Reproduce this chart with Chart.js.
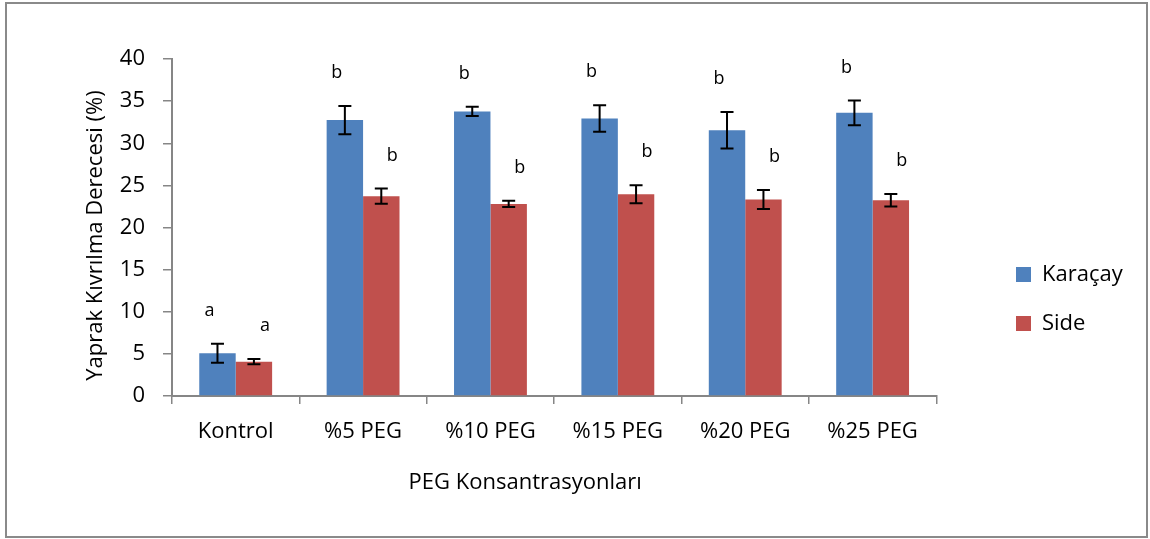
<!DOCTYPE html>
<html>
<head>
<meta charset="utf-8">
<script src="https://cdn.jsdelivr.net/npm/chart.js@4"></script>
<style>
  html, body { margin: 0; padding: 0; background: #ffffff; }
  #wrap { width: 1150px; height: 539px; position: relative; }
</style>
</head>
<body>
<div id="wrap"><canvas id="chart"></canvas></div>
<script>
// Leaf rolling degree (%) per PEG concentration for two cultivars
const categories = ['Kontrol', '%5 PEG', '%10 PEG', '%15 PEG', '%20 PEG', '%25 PEG'];
const karacayValues = [5.07, 32.75, 33.77, 32.94, 31.55, 33.61];
const karacayErrors = [1.13, 1.68, 0.55, 1.57, 2.16, 1.46];
const sideValues = [4.08, 23.72, 22.80, 23.95, 23.32, 23.24];
const sideErrors = [0.32, 0.91, 0.38, 1.07, 1.13, 0.75];
const karacayLetters = ['a', 'b', 'b', 'b', 'b', 'b'];
const sideLetters = ['a', 'b', 'b', 'b', 'b', 'b'];
const yTicks = [0, 5, 10, 15, 20, 25, 30, 35, 40];

const FONT = '"Open Sans", Lato, "DejaVu Sans", sans-serif';
const TEXT_SIZE = 22;
const AXIS_GREY = '#868686';

// Outer frame around the whole chart
const framePlugin = {
  id: 'frame',
  beforeDraw(chart) {
    const ctx = chart.ctx;
    ctx.save();
    ctx.fillStyle = '#ffffff';
    ctx.fillRect(0, 0, chart.width, chart.height);
    ctx.strokeStyle = '#8a8a8a';
    ctx.lineWidth = 2;
    ctx.strokeRect(6, 3, 1141, 534);
    ctx.restore();
  }
};

// Legend block sits to the right of the plot; axis titles get a small nudge
const placement = {
  id: 'placement',
  afterLayout(chart) {
    const lg = chart.legend;
    if (lg) {
      const dx = 1016 - (lg.left + lg.options.labels.padding);
      const dy = 236.5 - lg.top;
      lg.left += dx; lg.right += dx;
      lg.top += dy; lg.bottom += dy;
    }
    const shift = (scale, dx, dy) => {
      if (scale.$titleShifted) return;
      const draw = scale.drawTitle.bind(scale);
      scale.drawTitle = function () {
        const c = this.ctx;
        c.save();
        c.translate(dx, dy);
        draw();
        c.restore();
      };
      scale.$titleShifted = true;
    };
    shift(chart.scales.x, -29, 0);
    shift(chart.scales.y, 0, 8);
  }
};

// Error bars with caps, plus significance letters above them
const errorBars = {
  id: 'errorBars',
  afterDatasetsDraw(chart) {
    const ctx = chart.ctx;
    const y = chart.scales.y;
    ctx.save();
    chart.data.datasets.forEach((ds, i) => {
      const meta = chart.getDatasetMeta(i);
      meta.data.forEach((bar, j) => {
        const v = ds.data[j];
        const e = ds.errors[j];
        const top = y.getPixelForValue(v + e);
        const bot = y.getPixelForValue(v - e);
        const x = bar.x;
        ctx.strokeStyle = '#000000';
        ctx.lineWidth = 2;
        ctx.beginPath();
        ctx.moveTo(x, top); ctx.lineTo(x, bot);
        ctx.moveTo(x - 6.5, top); ctx.lineTo(x + 6.5, top);
        ctx.moveTo(x - 6.5, bot); ctx.lineTo(x + 6.5, bot);
        ctx.stroke();
        ctx.fillStyle = '#000000';
        ctx.font = '18px ' + FONT;
        ctx.textAlign = 'center';
        ctx.textBaseline = 'middle';
        ctx.fillText(ds.letters[j], x + ds.letterShift, top - 33);
      });
    });
    ctx.restore();
  }
};

new Chart(document.getElementById('chart'), {
  type: 'bar',
  data: {
    labels: categories,
    datasets: [
      {
        label: 'Karaçay',
        data: karacayValues,
        errors: karacayErrors,
        letters: karacayLetters,
        letterShift: -8,
        backgroundColor: '#4F81BD',
        borderWidth: 0,
        categoryPercentage: 0.572,
        barPercentage: 1.0
      },
      {
        label: 'Side',
        data: sideValues,
        errors: sideErrors,
        letters: sideLetters,
        letterShift: 11,
        backgroundColor: '#C0504D',
        borderWidth: 0,
        categoryPercentage: 0.572,
        barPercentage: 1.0
      }
    ]
  },
  options: {
    responsive: true,
    maintainAspectRatio: false,
    devicePixelRatio: 1,
    animation: false,
    layout: { padding: { left: 0, top: 59, right: 70, bottom: 20 } },
    plugins: {
      tooltip: { enabled: false },
      legend: {
        position: 'right',
        align: 'start',
        labels: {
          boxWidth: 15,
          boxHeight: 15,
          padding: 27,
          color: '#000000',
          font: { family: FONT, size: TEXT_SIZE }
        }
      }
    },
    scales: {
      x: {
        offset: true,
        grid: {
          offset: true,
          drawOnChartArea: false,
          drawTicks: true,
          tickLength: 8,
          color: AXIS_GREY,
          lineWidth: 1.5
        },
        border: { display: true, color: AXIS_GREY, width: 2 },
        ticks: {
          color: '#000000',
          padding: 15,
          font: { family: FONT, size: TEXT_SIZE },
          maxRotation: 0
        },
        title: {
          display: true,
          text: 'PEG Konsantrasyonları',
          color: '#000000',
          font: { family: FONT, size: TEXT_SIZE },
          padding: { top: 0, bottom: 23 }
        },
        afterFit(scale) { scale.height = 123; }
      },
      y: {
        min: 0,
        max: 40,
        afterBuildTicks(scale) { scale.ticks = yTicks.map(v => ({ value: v })); },
        grid: {
          drawOnChartArea: false,
          drawTicks: true,
          tickLength: 9,
          color: AXIS_GREY,
          lineWidth: 1.5
        },
        border: { display: true, color: AXIS_GREY, width: 2 },
        ticks: {
          color: '#000000',
          padding: 18,
          font: { family: FONT, size: TEXT_SIZE }
        },
        title: {
          display: true,
          text: 'Yaprak Kıvrılma Derecesi (%)',
          color: '#000000',
          font: { family: FONT, size: TEXT_SIZE },
          padding: { top: 83, bottom: 0 }
        },
        afterFit(scale) { scale.width = 172; }
      }
    }
  },
  plugins: [framePlugin, placement, errorBars]
});
</script>
</body>
</html>
